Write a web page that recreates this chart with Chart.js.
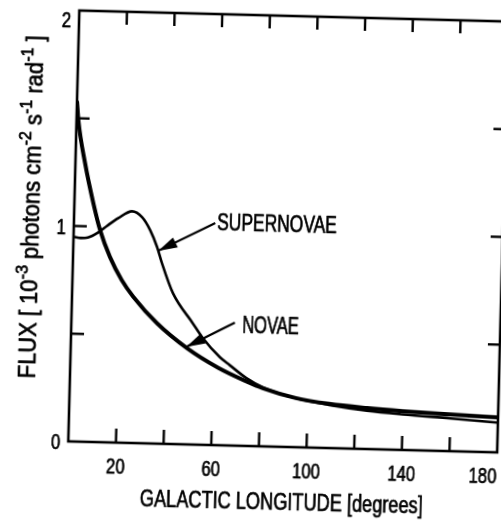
<!DOCTYPE html>
<html><head><meta charset="utf-8">
<script src="https://cdn.jsdelivr.net/npm/chart.js@4"></script>
<style>
html,body{margin:0;padding:0;background:#fff;overflow:hidden;width:501px;height:520px;}
#wrap{position:absolute;left:0;top:0;width:520px;height:520px;transform-origin:250.5px 260px;transform:rotate(1.47deg);}
canvas{display:block;}
</style></head><body>
<div id="wrap"><canvas id="c" width="520" height="520"></canvas></div>
<script>
// ---- data ----
const novaeLon  = [0, 0.8, 4.1, 8, 11.1, 15.5, 20.7, 25.6, 36, 49, 62, 74, 81, 95, 109, 125, 140, 160, 180];
const novaeFlux = [1.58, 1.49, 1.29, 1.106, 0.983, 0.86, 0.754, 0.68, 0.558, 0.445, 0.36, 0.30, 0.27, 0.228, 0.205, 0.19, 0.18, 0.17, 0.162];
const superLon  = [0, 3, 6, 10.3, 14, 18.5, 24.3, 28.6, 32.1, 35.2, 37.4, 42.3, 51, 55.4, 62.7, 67, 74, 81, 95, 109, 125, 140, 160, 180];
const superFlux = [0.95, 0.945, 0.948, 0.973, 1.005, 1.041, 1.075, 1.048, 0.989, 0.911, 0.837, 0.70, 0.562, 0.494, 0.408, 0.372, 0.315, 0.274, 0.227, 0.20, 0.178, 0.165, 0.152, 0.138];
const xTickMarks = [20, 40, 60, 80, 100, 120, 140, 160];
const xTickLabelValues = [20, 60, 100, 140, 180];
const xTickLabels = ['20', '60', '100', '140', '180'];
const yTickMarks = [0.5, 1, 1.5];
const yTickLabelValues = [0, 1, 2];
const yTickLabels = ['0', '1', '2'];
const xTitle = 'GALACTIC LONGITUDE [degrees]';
const yTitleParts = [['FLUX [ 10', 0], ['-3', 1], [' photons cm', 0], ['-2', 1], [' s', 0], ['-1', 1], [' rad', 0], ['-1', 1], [' ]', 0]];
const seriesNames = ['NOVAE', 'SUPERNOVAE'];

const FONT = '"Liberation Sans", Arial, sans-serif';

function pts(xs, ys){ return xs.map((v,i)=>({x:v, y:ys[i]})); }

const frame = {
  id: 'frame',
  afterDatasetsDraw(chart){
    const {ctx, chartArea:a, scales:{x, y}} = chart;
    ctx.save();
    ctx.strokeStyle = '#000'; ctx.fillStyle = '#000';
    const line = (x0,y0,x1,y1)=>{ctx.beginPath();ctx.moveTo(x0,y0);ctx.lineTo(x1,y1);ctx.stroke();};
    const txt = (s, px, py, size, align, sx)=>{
      ctx.save(); ctx.font = size+'px '+FONT; ctx.translate(px,py); ctx.scale(sx,1);
      ctx.textAlign = align; ctx.textBaseline = 'alphabetic';
      ctx.lineWidth = 0.7; ctx.lineJoin = 'round';
      ctx.fillText(s,0,0); ctx.strokeText(s,0,0); ctx.restore();
    };
    // box
    ctx.lineWidth = 2.6;
    ctx.strokeRect(a.left, a.top, a.right-a.left, a.bottom-a.top);
    // inward ticks
    ctx.lineWidth = 2.4;
    xTickMarks.forEach(v=>{ const p = x.getPixelForValue(v); line(p, a.bottom, p, a.bottom-14); line(p, a.top, p, a.top+13); });
    yTickMarks.forEach(v=>{ const p = y.getPixelForValue(v); line(a.left, p, a.left+13, p); line(a.right, p, a.right-12, p); });
    // tick labels
    xTickLabelValues.forEach((v,i)=>{ const p = Math.min(x.getPixelForValue(v), a.right-14); txt(xTickLabels[i], p, a.bottom+30.5, 22, 'center', 0.76); });
    yTickLabelValues.forEach((v,i)=>{ const p = Math.max(y.getPixelForValue(v), a.top+9); txt(yTickLabels[i], a.left-8, p+8, 22, 'right', 0.76); });
    // x title
    ctx.font = '23px '+FONT;
    const wX = ctx.measureText(xTitle).width;
    txt(xTitle, (a.left+a.right)/2, a.bottom+62.5, 23, 'center', 283/wX);
    // y title with superscripts
    let total = 0;
    const widths = yTitleParts.map(([s,sup])=>{ ctx.font = (sup?17:23)+'px '+FONT; const w = ctx.measureText(s).width; total += w; return w; });
    const sc = 343/total;
    ctx.save();
    ctx.translate(a.left-35, 212.5);
    ctx.rotate(-Math.PI/2);
    ctx.scale(sc,1);
    ctx.lineWidth = 0.7; ctx.lineJoin = 'round';
    let cx = -total/2;
    yTitleParts.forEach(([s,sup],i)=>{
      ctx.font = (sup?17:23)+'px '+FONT; ctx.textAlign='left'; ctx.textBaseline='alphabetic';
      const yy = sup ? -10 : 0;
      ctx.fillText(s, cx, yy); ctx.strokeText(s, cx, yy); cx += widths[i];
    });
    ctx.restore();
    // annotations with arrows
    const arrow = (d0, d1)=>{
      const x0 = x.getPixelForValue(d0[0]), y0 = y.getPixelForValue(d0[1]);
      const x1 = x.getPixelForValue(d1[0]), y1 = y.getPixelForValue(d1[1]);
      ctx.lineWidth = 2.2; line(x0,y0,x1,y1);
      const ang = Math.atan2(y1-y0, x1-x0), L = 19, W = 5.5;
      const bx = x1 - L*Math.cos(ang), by = y1 - L*Math.sin(ang);
      ctx.beginPath(); ctx.moveTo(x1,y1);
      ctx.lineTo(bx + W*Math.sin(ang), by - W*Math.cos(ang));
      ctx.lineTo(bx - W*Math.sin(ang), by + W*Math.cos(ang));
      ctx.closePath(); ctx.fill();
    };
    arrow([59.3, 1.03], [35.7, 0.895]);
    arrow([68.6, 0.571], [48.5, 0.452]);
    txt(seriesNames[1], x.getPixelForValue(60.1), y.getPixelForValue(1.0), 24, 'left', 0.726);
    txt(seriesNames[0], x.getPixelForValue(71.7), y.getPixelForValue(0.524), 24, 'left', 0.69);
    ctx.restore();
  }
};

new Chart(document.getElementById('c'), {
  type: 'scatter',
  data: {
    datasets: [
      { label: seriesNames[0], data: pts(novaeLon, novaeFlux), showLine: true, borderColor: '#000', borderWidth: 4, pointRadius: 0, cubicInterpolationMode: 'monotone', fill: false },
      { label: seriesNames[1], data: pts(superLon, superFlux), showLine: true, borderColor: '#000', borderWidth: 2.6, pointRadius: 0, cubicInterpolationMode: 'monotone', fill: false }
    ]
  },
  options: {
    responsive: false, animation: false, devicePixelRatio: 1,
    layout: { padding: { left: 73, top: 15, right: 18, bottom: 74 } },
    plugins: { legend: { display: false }, tooltip: { enabled: false } },
    scales: {
      x: { type: 'linear', min: 0, max: 180, display: false },
      y: { type: 'linear', min: 0, max: 2, display: false }
    }
  },
  plugins: [frame]
});
</script>
</body></html>
